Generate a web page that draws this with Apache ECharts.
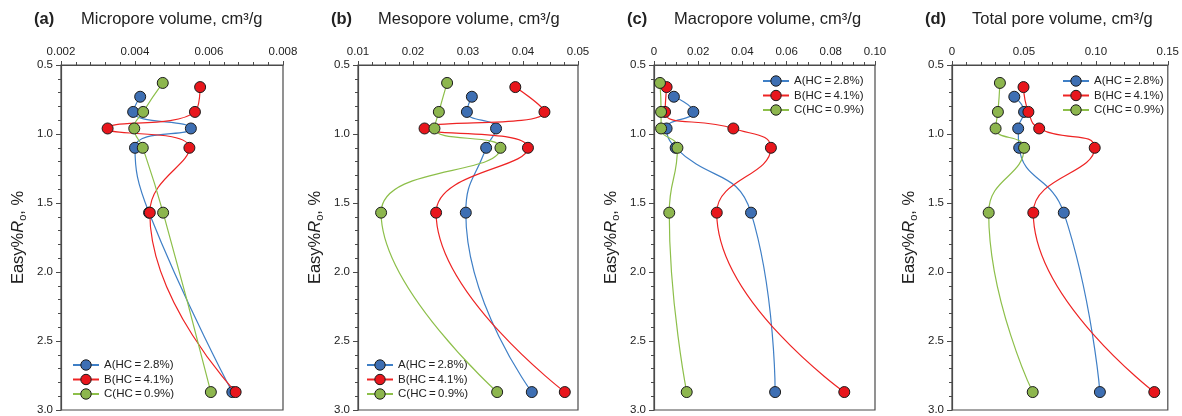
<!DOCTYPE html>
<html>
<head>
<meta charset="utf-8">
<script src="https://cdn.jsdelivr.net/npm/echarts@6/dist/echarts.min.js"></script>
<style>
  html, body { margin: 0; padding: 0; background: #fff; }
  #chart { width: 1182px; height: 416px; }
</style>
</head>
<body>
<div id="chart"></div>
<script>
// Sample names and panel headings
const seriesNames = ['A(HC\u2009=\u20092.8%)', 'B(HC\u2009=\u20094.1%)', 'C(HC\u2009=\u20090.9%)'];
const panelTags = ['(a)', '(b)', '(c)', '(d)'];
const panelTitles = ['Micropore volume, cm³/g', 'Mesopore volume, cm³/g', 'Macropore volume, cm³/g', 'Total pore volume, cm³/g'];

// Maturity (Easy%Ro) of each sample step
const roA = [0.73, 0.84, 0.96, 1.10, 1.57, 2.87];
const roB = [0.66, 0.84, 0.96, 1.10, 1.57, 2.87];
const roC = [0.63, 0.84, 0.96, 1.10, 1.57, 2.87];

// Pore volumes, cm3/g
const microA = [0.00414, 0.00395, 0.00551, 0.00400, 0.00438, 0.00663];
const microB = [0.00576, 0.00562, 0.00326, 0.00547, 0.00440, 0.00672];
const microC = [0.00475, 0.00422, 0.00398, 0.00421, 0.00476, 0.00605];

const mesoA = [0.0307, 0.0298, 0.0351, 0.0333, 0.0296, 0.0416];
const mesoB = [0.0386, 0.0439, 0.0221, 0.0409, 0.0242, 0.0476];
const mesoC = [0.0262, 0.0247, 0.0239, 0.0359, 0.0142, 0.0353];

const macroA = [0.0090, 0.0178, 0.0057, 0.0098, 0.0439, 0.0548];
const macroB = [0.0057, 0.0050, 0.0359, 0.0529, 0.0284, 0.0861];
const macroC = [0.0027, 0.0032, 0.0032, 0.0106, 0.0069, 0.0148];

const totalA = [0.0433, 0.0501, 0.0460, 0.0467, 0.0777, 0.1028];
const totalB = [0.0497, 0.0531, 0.0606, 0.0992, 0.0565, 0.1406];
const totalC = [0.0333, 0.0319, 0.0303, 0.0501, 0.0255, 0.0561];

// Axis ranges and tick steps for each panel
const xMin = [0.002, 0.01, 0, 0];
const xMax = [0.008, 0.05, 0.10, 0.15];
const xStep = [0.002, 0.01, 0.02, 0.05];
const xMinorSplit = [5, 4, 4, 5];
const xDecimals = [3, 2, 2, 2];
const yMin = 0.5, yMax = 3.0, yStep = 0.5;

const panelValues = [
  [microA, microB, microC],
  [mesoA, mesoB, mesoC],
  [macroA, macroB, macroC],
  [totalA, totalB, totalC]
];
const roSets = [roA, roB, roC];

// Layout of the four plot frames
const gridLeft = [61, 358, 654, 952];
const gridWidth = [222, 220, 221, 219];
const gridTop = 65, gridHeight = 347;

const FONT = 'Liberation Sans, Arial, Helvetica, sans-serif';
const markerFill = ['#3e6fb3', '#e8161c', '#8db64e'];
const lineColor = ['#3f7fc6', '#ee2424', '#8dbf4a'];
const frameColor = '#4a4a4a';

const grids = [], xAxes = [], yAxes = [], series = [], titles = [], legends = [];

for (let p = 0; p < 4; p++) {
  grids.push({
    left: gridLeft[p], top: gridTop, width: gridWidth[p], height: gridHeight,
    show: true, borderColor: frameColor, borderWidth: 1.2, backgroundColor: 'transparent'
  });
  const dec = xDecimals[p];
  xAxes.push({
    gridIndex: p, type: 'value', position: 'top',
    min: xMin[p], max: xMax[p], interval: xStep[p],
    axisLine: { show: true, onZero: false, lineStyle: { color: frameColor, width: 1.2 } },
    axisTick: { show: true, length: 4, lineStyle: { color: frameColor } },
    minorTick: { show: true, splitNumber: xMinorSplit[p], length: 3, lineStyle: { color: frameColor } },
    splitLine: { show: false },
    axisLabel: {
      fontSize: 11.5, color: '#222', fontFamily: FONT, margin: 7,
      formatter: v => (Math.abs(v) < 1e-12 ? '0' : v.toFixed(dec))
    }
  });
  yAxes.push({
    gridIndex: p, type: 'value', inverse: true,
    min: yMin, max: yMax, interval: yStep,
    axisLine: { show: true, onZero: false, lineStyle: { color: frameColor, width: 1.2 } },
    axisTick: { show: true, length: 5, lineStyle: { color: frameColor } },
    minorTick: { show: true, splitNumber: 5, length: 3, lineStyle: { color: frameColor } },
    splitLine: { show: false },
    axisLabel: { fontSize: 11.5, color: '#222', fontFamily: FONT, margin: 8, formatter: v => v.toFixed(1) },
    name: 'Easy%{i|R}{s|o}, %',
    nameLocation: 'middle', nameRotate: 90, nameGap: 33,
    nameTextStyle: {
      fontSize: 16.5, color: '#222', fontFamily: FONT, lineHeight: 20,
      rich: {
        i: { fontSize: 16.5, fontStyle: 'italic', color: '#222', fontFamily: FONT, lineHeight: 20 },
        s: { fontSize: 11, color: '#222', fontFamily: FONT, lineHeight: 20, verticalAlign: 'bottom', padding: [0, 0, 0, 0] }
      }
    }
  });
  for (let s = 0; s < 3; s++) {
    const vals = panelValues[p][s];
    const ro = roSets[s];
    series.push({
      type: 'line', name: seriesNames[s], xAxisIndex: p, yAxisIndex: p,
      data: vals.map((v, i) => [v, ro[i]]),
      smooth: 0.5,
      symbol: 'circle', symbolSize: 11,
      lineStyle: { color: lineColor[s], width: 1.2 },
      itemStyle: { color: markerFill[s], borderColor: '#1c1c1c', borderWidth: 1 },
      z: 2 + s
    });
  }
  titles.push({
    text: panelTags[p], left: gridLeft[p] - 27, top: 11, padding: 0,
    textStyle: { fontSize: 16.5, fontWeight: 'bold', color: '#222', fontFamily: FONT }
  });
  titles.push({
    text: panelTitles[p], left: gridLeft[p] + 20, top: 11, padding: 0,
    textStyle: { fontSize: 16.5, fontWeight: 'normal', color: '#222', fontFamily: FONT }
  });
}

// Legends: bottom-left in the first two panels, top-right in the last two
const legendLeft = [72, 366, 762, 1062];
const legendTop = [359, 359, 75, 75];
for (let p = 0; p < 4; p++) {
  legends.push({
    data: seriesNames, orient: 'vertical', left: legendLeft[p], top: legendTop[p],
    padding: 0, itemGap: 2.5, itemWidth: 26, itemHeight: 13,
    selectedMode: false,
    itemStyle: { borderColor: '#1c1c1c', borderWidth: 1 },
    textStyle: { fontSize: 11.5, color: '#222', fontFamily: FONT }
  });
}

const chart = echarts.init(document.getElementById('chart'), null, { renderer: 'canvas' });
chart.setOption({
  animation: false,
  backgroundColor: '#fff',
  title: titles,
  legend: legends,
  grid: grids,
  xAxis: xAxes,
  yAxis: yAxes,
  series: series
});
</script>
</body>
</html>
